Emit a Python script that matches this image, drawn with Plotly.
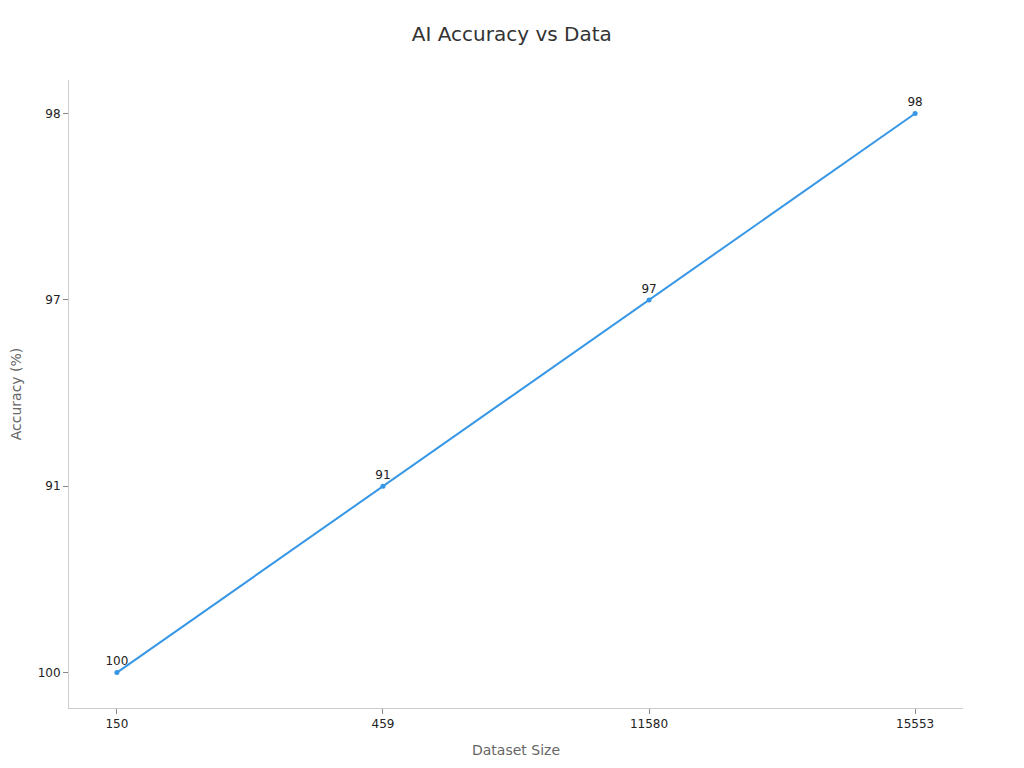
import plotly.graph_objects as go

# categorical values, as shown on the chart
dataset_size = ["150", "459", "11580", "15553"]
accuracy = ["100", "91", "97", "98"]
point_labels = ["100", "91", "97", "98"]

line_color = "#3796e5"
font_name = "DejaVu Sans"

fig = go.Figure(go.Scatter(
    x=dataset_size,
    y=accuracy,
    mode="lines+markers+text",
    text=point_labels,
    textposition="top center",
    textfont=dict(family=font_name, size=12, color="#222222"),
    line=dict(color=line_color, width=2),
    marker=dict(color=line_color, size=5),
    cliponaxis=False,
))

fig.update_layout(
    width=1024, height=768,
    paper_bgcolor="white", plot_bgcolor="white",
    margin=dict(l=61, r=69, t=72, b=68),
    showlegend=False,
    font=dict(family=font_name, size=12, color="#222222"),
    title=dict(text="AI Accuracy vs Data", x=0.492, xanchor="center", y=0.975,
               font=dict(family=font_name, size=20, color="#333333")),
)
fig.update_xaxes(
    type="category", categoryorder="array", categoryarray=dataset_size,
    range=[-0.18, 3.18],
    showgrid=False, zeroline=False,
    showline=True, linecolor="#cccccc", linewidth=1,
    ticks="outside", ticklen=5, tickcolor="#888888",
    tickfont=dict(size=12, color="#222222"),
    title=dict(text="Dataset Size", font=dict(size=14, color="#666666"), standoff=14),
)
fig.update_yaxes(
    type="category", categoryorder="array", categoryarray=accuracy,
    range=[-0.19, 3.18], automargin=False,
    showgrid=False, zeroline=False,
    showline=True, linecolor="#cccccc", linewidth=1,
    ticks="outside", ticklen=5, tickcolor="#888888",
    tickfont=dict(size=12, color="#222222"),
    title=dict(text="Accuracy (%)", font=dict(size=14, color="#666666"), standoff=14),
)

fig.write_html("out.html")
